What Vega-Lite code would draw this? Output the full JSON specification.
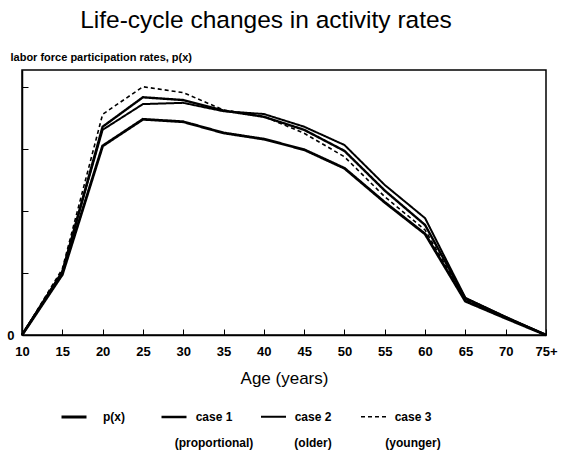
{
  "$schema": "https://vega.github.io/schema/vega-lite/v6.json",
  "width": 524,
  "height": 265,
  "autosize": "none",
  "padding": {"left": 22, "top": 70, "right": 15, "bottom": 120},
  "background": "white",
  "title": {
    "text": "Life-cycle changes in activity rates",
    "font": "Liberation Sans",
    "fontSize": 24.5,
    "fontWeight": "normal",
    "color": "black",
    "anchor": "middle",
    "dx": -18,
    "dy": -14
  },
  "config": {
    "view": {"stroke": "black", "strokeWidth": 1.5},
    "font": "Liberation Sans",
    "legend": {
      "orient": "none",
      "legendX": 38,
      "legendY": 333,
      "direction": "horizontal",
      "symbolType": "stroke",
      "symbolSize": 625,
      "symbolStrokeColor": "black",
      "labelFont": "Liberation Sans",
      "labelFontSize": 12,
      "labelFontWeight": "bold",
      "labelColor": "black",
      "labelAlign": "center",
      "labelBaseline": "middle",
      "labelOffset": 26,
      "columnPadding": 2,
      "gridAlign": "all",
      "labelLimit": 200
    }
  },
  "data": {
    "values": [
      {"age": 10, "series": "p(x)", "value": 0},
      {"age": 15, "series": "p(x)", "value": 0.195},
      {"age": 20, "series": "p(x)", "value": 0.61},
      {"age": 25, "series": "p(x)", "value": 0.696},
      {"age": 30, "series": "p(x)", "value": 0.688},
      {"age": 35, "series": "p(x)", "value": 0.652},
      {"age": 40, "series": "p(x)", "value": 0.632},
      {"age": 45, "series": "p(x)", "value": 0.598},
      {"age": 50, "series": "p(x)", "value": 0.538},
      {"age": 55, "series": "p(x)", "value": 0.428},
      {"age": 60, "series": "p(x)", "value": 0.326},
      {"age": 65, "series": "p(x)", "value": 0.109},
      {"age": 70, "series": "p(x)", "value": 0.054},
      {"age": 75, "series": "p(x)", "value": 0},
      {"age": 10, "series": "case 1", "value": 0},
      {"age": 15, "series": "case 1", "value": 0.203},
      {"age": 20, "series": "case 1", "value": 0.672},
      {"age": 25, "series": "case 1", "value": 0.767},
      {"age": 30, "series": "case 1", "value": 0.758},
      {"age": 35, "series": "case 1", "value": 0.724},
      {"age": 40, "series": "case 1", "value": 0.704},
      {"age": 45, "series": "case 1", "value": 0.662},
      {"age": 50, "series": "case 1", "value": 0.594},
      {"age": 55, "series": "case 1", "value": 0.466},
      {"age": 60, "series": "case 1", "value": 0.355},
      {"age": 65, "series": "case 1", "value": 0.118},
      {"age": 70, "series": "case 1", "value": 0.058},
      {"age": 75, "series": "case 1", "value": 0},
      {"age": 10, "series": "case 2", "value": 0},
      {"age": 15, "series": "case 2", "value": 0.205},
      {"age": 20, "series": "case 2", "value": 0.662},
      {"age": 25, "series": "case 2", "value": 0.745},
      {"age": 30, "series": "case 2", "value": 0.749},
      {"age": 35, "series": "case 2", "value": 0.722},
      {"age": 40, "series": "case 2", "value": 0.713},
      {"age": 45, "series": "case 2", "value": 0.672},
      {"age": 50, "series": "case 2", "value": 0.613},
      {"age": 55, "series": "case 2", "value": 0.484},
      {"age": 60, "series": "case 2", "value": 0.377},
      {"age": 65, "series": "case 2", "value": 0.12},
      {"age": 70, "series": "case 2", "value": 0.058},
      {"age": 75, "series": "case 2", "value": 0},
      {"age": 10, "series": "case 3", "value": 0},
      {"age": 15, "series": "case 3", "value": 0.213},
      {"age": 20, "series": "case 3", "value": 0.712},
      {"age": 25, "series": "case 3", "value": 0.801},
      {"age": 30, "series": "case 3", "value": 0.782},
      {"age": 35, "series": "case 3", "value": 0.726},
      {"age": 40, "series": "case 3", "value": 0.705},
      {"age": 45, "series": "case 3", "value": 0.651},
      {"age": 50, "series": "case 3", "value": 0.575},
      {"age": 55, "series": "case 3", "value": 0.446},
      {"age": 60, "series": "case 3", "value": 0.339},
      {"age": 65, "series": "case 3", "value": 0.113},
      {"age": 70, "series": "case 3", "value": 0.056},
      {"age": 75, "series": "case 3", "value": 0}
    ]
  },
  "mark": {"type": "line", "color": "black"},
  "encoding": {
    "x": {
      "field": "age",
      "type": "quantitative",
      "scale": {"domain": [10, 75], "nice": false, "zero": false},
      "axis": {
        "values": [10, 15, 20, 25, 30, 35, 40, 45, 50, 55, 60, 65, 70, 75],
        "labelExpr": "datum.value == 75 ? '75+' : datum.label",
        "title": "Age (years)",
        "grid": false,
        "tickSize": -6,
        "tickColor": "black",
        "domainColor": "black",
        "domainWidth": 1.5,
        "labelFont": "Liberation Sans",
        "labelFontSize": 13,
        "labelFontWeight": "bold",
        "labelColor": "black",
        "labelPadding": 16,
        "labelFlush": false,
        "titleFont": "Liberation Sans",
        "titleFontSize": 17,
        "titleFontWeight": "normal",
        "titleColor": "black",
        "titlePadding": 12
      }
    },
    "y": {
      "field": "value",
      "type": "quantitative",
      "scale": {"domain": [0, 0.855], "nice": false},
      "axis": {
        "values": [0, 0.2, 0.4, 0.6, 0.8],
        "labelExpr": "datum.value == 0 ? '0' : ''",
        "grid": false,
        "tickSize": -6,
        "tickColor": "black",
        "domainColor": "black",
        "domainWidth": 1.5,
        "labelFont": "Liberation Sans",
        "labelFontSize": 13,
        "labelFontWeight": "bold",
        "labelColor": "black",
        "labelPadding": 14,
        "title": "labor force participation rates, p(x)",
        "titleAngle": 0,
        "titleX": -12,
        "titleY": -8,
        "titleAlign": "left",
        "titleBaseline": "bottom",
        "titleFont": "Liberation Sans",
        "titleFontSize": 11,
        "titleFontWeight": "bold",
        "titleColor": "black"
      }
    },
    "strokeDash": {
      "field": "series",
      "type": "nominal",
      "scale": {"domain": ["p(x)", "case 1", "case 2", "case 3"], "range": [[1, 0], [1, 0], [1, 0], [4, 3]]},
      "legend": {
        "title": null,
        "labelExpr": "datum.label == 'case 1' ? ['case 1', '(proportional)'] : datum.label == 'case 2' ? ['case 2', '(older)'] : datum.label == 'case 3' ? ['case 3', '(younger)'] : ['p(x)', ' ']",
        "encode": {"labels": {"update": {"lineHeight": {"value": 26}, "baseline": {"value": "alphabetic"}, "dy": {"value": 4}}}}
      }
    },
    "strokeWidth": {
      "field": "series",
      "type": "ordinal",
      "scale": {"domain": ["p(x)", "case 1", "case 2", "case 3"], "range": [2.8, 1.6, 1.0, 1.4]},
      "legend": {
        "title": null,
        "labelExpr": "datum.label == 'case 1' ? ['case 1', '(proportional)'] : datum.label == 'case 2' ? ['case 2', '(older)'] : datum.label == 'case 3' ? ['case 3', '(younger)'] : ['p(x)', ' ']",
        "encode": {"labels": {"update": {"lineHeight": {"value": 26}, "baseline": {"value": "alphabetic"}, "dy": {"value": 4}}}}
      }
    }
  }
}
